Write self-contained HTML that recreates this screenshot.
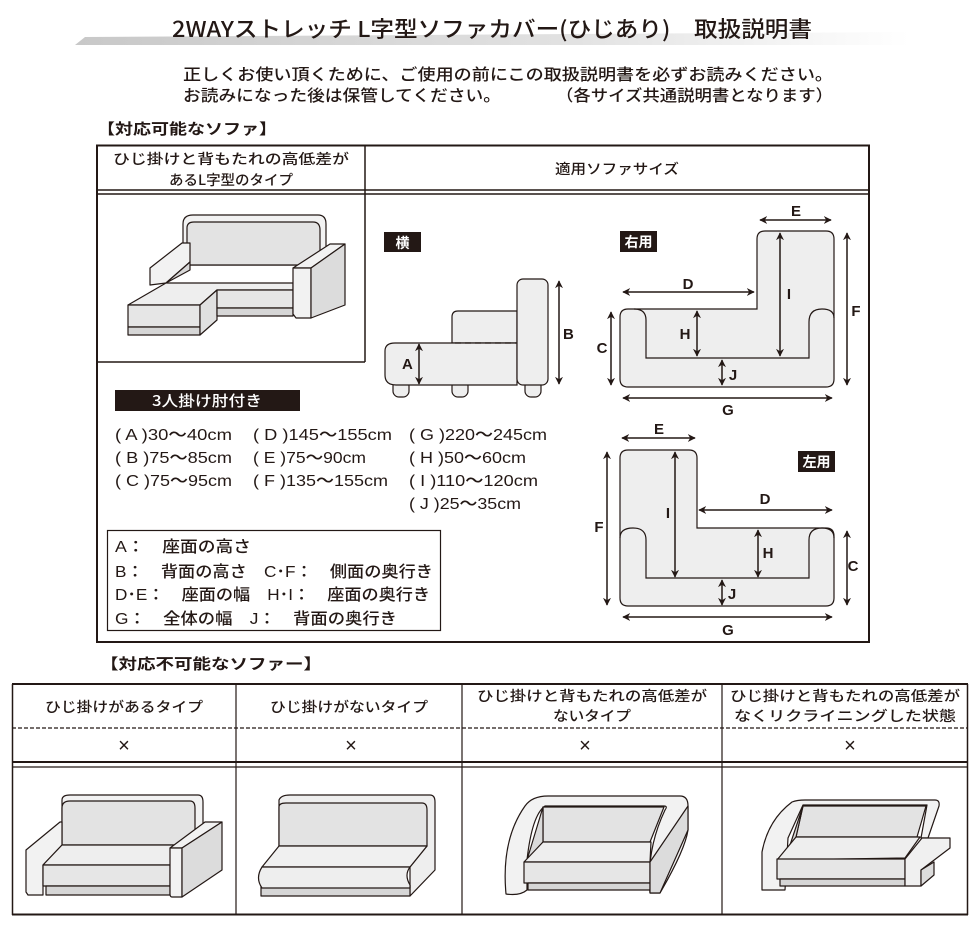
<!DOCTYPE html>
<html><head><meta charset="utf-8"><style>
html,body{margin:0;padding:0;background:#fff}
svg{display:block}
text{font-family:"Liberation Sans","Noto Sans CJK JP",sans-serif;fill:#231815;font-weight:500}
.j{font-family:"Noto Sans CJK JP","Liberation Sans",sans-serif}
</style></head><body>
<svg width="980" height="936" viewBox="0 0 980 936" xmlns="http://www.w3.org/2000/svg">
<defs>
<linearGradient id="bar" x1="0" x2="1" y1="0" y2="0">
<stop offset="0" stop-color="#c8c8c8"/><stop offset="0.6" stop-color="#e2e2e2"/><stop offset="1" stop-color="#ffffff"/>
</linearGradient>
<marker id="ah" viewBox="0 0 10 10" refX="9" refY="5" markerWidth="8" markerHeight="8" orient="auto-start-reverse" markerUnits="userSpaceOnUse">
<path d="M0,0 L10,5 L0,10 L3,5 z" fill="#231815"/></marker>
</defs>

<polygon points="85,37 910,32 910,45 75,45" fill="url(#bar)"/>
<text class="j" x="172" y="37" font-size="22" textLength="640" lengthAdjust="spacingAndGlyphs">2WAYストレッチ L字型ソファカバー(ひじあり)　取扱説明書</text>

<text class="j" x="183" y="80" font-size="16" textLength="650" lengthAdjust="spacingAndGlyphs">正しくお使い頂くために、ご使用の前にこの取扱説明書を必ずお読みください。</text>
<text class="j" x="183" y="101" font-size="16" textLength="318" lengthAdjust="spacingAndGlyphs">お読みになった後は保管してください。</text>
<text class="j" x="556" y="101" font-size="16" textLength="277" lengthAdjust="spacingAndGlyphs">（各サイズ共通説明書となります）</text>

<text class="j" x="97" y="134" font-size="15" font-weight="bold" style="font-weight:bold" textLength="180" lengthAdjust="spacingAndGlyphs">【対応可能なソファ】</text>

<g fill="none" stroke="#231815">
<rect x="97" y="145.5" width="772" height="496.5" stroke-width="2"/>
<line x1="97" y1="190" x2="869" y2="190" stroke-width="1.5"/>
<line x1="97" y1="194" x2="869" y2="194" stroke-width="1.5"/>
<line x1="365" y1="145" x2="365" y2="362" stroke-width="1.5"/>
<line x1="97" y1="362" x2="365" y2="362" stroke-width="1.5"/>
</g>
<text class="j" x="231" y="164" font-size="14" text-anchor="middle" textLength="236" lengthAdjust="spacingAndGlyphs">ひじ掛けと背もたれの高低差が</text>
<text class="j" x="231" y="185" font-size="14" text-anchor="middle" textLength="124" lengthAdjust="spacingAndGlyphs">あるL字型のタイプ</text>
<text class="j" x="617" y="174" font-size="14" text-anchor="middle" textLength="124" lengthAdjust="spacingAndGlyphs">適用ソファサイズ</text>

<g stroke="#231815" stroke-width="1.2" stroke-linejoin="round">
<path d="M183,265 L183,224 Q183,215 193,215 L318,215 Q326,215 326,224 L326,265 Z" fill="#f2f2f2"/>
<path d="M187,265 L187,228 Q187,222 194,222 L313,222 Q320,222 320,230 L320,265 Z" fill="#e3e3e3"/>
<polygon points="150,268 182,243 190,243 190,262 166,283 150,285" fill="#f2f2f2"/>
<polygon points="166,283 190,262 190,270" fill="#d8d8d8"/>
<polygon points="128,305 166,283 293,283 293,290 217,290 200,305" fill="#eeeeee"/>
<polygon points="128,305 200,305 200,327 128,327" fill="#e6e6e6"/>
<polygon points="128,327 200,327 200,335 128,335" fill="#d6d6d6"/>
<polygon points="200,305 217,290 217,320 200,335" fill="#e0e0e0"/>
<polygon points="217,290 293,290 293,308 217,308" fill="#e6e6e6"/>
<polygon points="217,308 293,308 293,316 217,316" fill="#d6d6d6"/>
<polygon points="293,268 330,244 345,244 311,268" fill="#f2f2f2"/>
<polygon points="293,268 311,268 311,318 296,318 293,314" fill="#f2f2f2"/>
<polygon points="311,268 345,244 345,305 311,318" fill="#dcdcdc"/>
</g>

<rect x="384" y="232" width="37" height="20" fill="#231815"/>
<text class="j" x="402.5" y="248" font-size="14" text-anchor="middle" style="fill:#fff;font-weight:bold">横</text>
<g stroke="#231815" stroke-width="1.2" fill="#eeeeee">
<rect x="393" y="380" width="16" height="17" rx="6"/>
<rect x="452" y="380" width="16" height="17" rx="6"/>
<rect x="525" y="380" width="16" height="17" rx="6"/>
<path d="M452,343 L452,317 Q452,311 458,311 L517,311 L517,343 Z"/>
<path d="M517,385 L396,385 Q385,385 385,375 L385,351 Q385,343 395,343 L517,343 Z"/>
<rect x="517" y="279" width="31" height="106" rx="6"/>
</g>
<line x1="455" y1="343" x2="516" y2="343" stroke="#231815" stroke-width="1.2" stroke-dasharray="6,4"/>
<g stroke="#231815" stroke-width="1.5" marker-start="url(#ah)" marker-end="url(#ah)">
<line x1="419" y1="344" x2="419" y2="384"/>
<line x1="559" y1="281" x2="559" y2="384"/>
</g>
<text x="402" y="369" font-size="15" style="font-weight:bold">A</text>
<text x="563" y="339" font-size="15" style="font-weight:bold">B</text>

<rect x="620" y="231" width="37" height="21" fill="#231815"/>
<text class="j" x="638.5" y="247" font-size="14" text-anchor="middle" style="fill:#fff;font-weight:bold">右用</text>
<path d="M628,309 L757,309 L757,239 Q757,231 765,231 L826,231 Q834,231 834,239 L834,379 Q834,387 826,387 L628,387 Q620,387 620,379 L620,317 Q620,309 628,309 Z" fill="#eeeeee" stroke="#231815" stroke-width="1.2"/>
<path d="M634,309 Q646,309 646,320 L646,358 L809,358 L809,322 Q809,309 822,309 Q834,309 834,318" fill="none" stroke="#231815" stroke-width="1.2"/>
<g stroke="#231815" stroke-width="1.5" marker-start="url(#ah)" marker-end="url(#ah)">
<line x1="760" y1="220" x2="831" y2="220"/>
<line x1="780" y1="233" x2="780" y2="356"/>
<line x1="623" y1="292" x2="754" y2="292"/>
<line x1="697" y1="311" x2="697" y2="356"/>
<line x1="611" y1="312" x2="611" y2="385"/>
<line x1="847" y1="233" x2="847" y2="385"/>
<line x1="722" y1="360" x2="722" y2="385"/>
<line x1="623" y1="398" x2="832" y2="398"/>
</g>
<g font-size="15" text-anchor="middle" style="font-weight:bold">
<text x="796" y="216" style="font-weight:bold">E</text><text x="789" y="299" style="font-weight:bold">I</text><text x="688" y="289" style="font-weight:bold">D</text>
<text x="685" y="339" style="font-weight:bold">H</text><text x="602" y="353" style="font-weight:bold">C</text><text x="856" y="316" style="font-weight:bold">F</text>
<text x="733" y="380" style="font-weight:bold">J</text><text x="728" y="415" style="font-weight:bold">G</text>
</g>

<rect x="798" y="451" width="37" height="21" fill="#231815"/>
<text class="j" x="816.5" y="467" font-size="14" text-anchor="middle" style="fill:#fff;font-weight:bold">左用</text>
<path d="M628,450 L689,450 Q697,450 697,458 L697,528 L826,528 Q834,528 834,536 L834,598 Q834,606 826,606 L628,606 Q620,606 620,598 L620,458 Q620,450 628,450 Z" fill="#eeeeee" stroke="#231815" stroke-width="1.2"/>
<path d="M620,538 Q620,528 633,528 Q646,528 646,540 L646,578 L809,578 L809,540 Q809,528 822,528 Q834,528 834,538" fill="none" stroke="#231815" stroke-width="1.2"/>
<g stroke="#231815" stroke-width="1.5" marker-start="url(#ah)" marker-end="url(#ah)">
<line x1="622" y1="438" x2="695" y2="438"/>
<line x1="675" y1="452" x2="675" y2="577"/>
<line x1="699" y1="510" x2="832" y2="510"/>
<line x1="758" y1="530" x2="758" y2="577"/>
<line x1="847" y1="531" x2="847" y2="605"/>
<line x1="607" y1="452" x2="607" y2="605"/>
<line x1="722" y1="580" x2="722" y2="605"/>
<line x1="623" y1="617" x2="832" y2="617"/>
</g>
<g font-size="15" text-anchor="middle">
<text x="659" y="434" style="font-weight:bold">E</text><text x="668" y="518" style="font-weight:bold">I</text><text x="765" y="504" style="font-weight:bold">D</text>
<text x="768" y="558" style="font-weight:bold">H</text><text x="853" y="571" style="font-weight:bold">C</text><text x="599" y="532" style="font-weight:bold">F</text>
<text x="732" y="599" style="font-weight:bold">J</text><text x="728" y="635" style="font-weight:bold">G</text>
</g>

<rect x="115" y="390" width="185" height="21" fill="#231815"/>
<text class="j" x="207" y="406" font-size="15" text-anchor="middle" style="fill:#fff" textLength="110" lengthAdjust="spacingAndGlyphs">3人掛け肘付き</text>
<g font-size="16">
<text x="115" y="440" textLength="117" lengthAdjust="spacingAndGlyphs">( A )30〜40cm</text>
<text x="115" y="463" textLength="117" lengthAdjust="spacingAndGlyphs">( B )75〜85cm</text>
<text x="115" y="486" textLength="117" lengthAdjust="spacingAndGlyphs">( C )75〜95cm</text>
<text x="253" y="440" textLength="139" lengthAdjust="spacingAndGlyphs">( D )145〜155cm</text>
<text x="253" y="463" textLength="113" lengthAdjust="spacingAndGlyphs">( E )75〜90cm</text>
<text x="253" y="486" textLength="135" lengthAdjust="spacingAndGlyphs">( F )135〜155cm</text>
<text x="409" y="440" textLength="138" lengthAdjust="spacingAndGlyphs">( G )220〜245cm</text>
<text x="409" y="463" textLength="117" lengthAdjust="spacingAndGlyphs">( H )50〜60cm</text>
<text x="409" y="486" textLength="129" lengthAdjust="spacingAndGlyphs">( I )110〜120cm</text>
<text x="409" y="509" textLength="112" lengthAdjust="spacingAndGlyphs">( J )25〜35cm</text>
</g>

<rect x="107.5" y="530.5" width="333" height="100" fill="none" stroke="#231815" stroke-width="1.2"/>
<g class="j" font-size="16">
<text x="115" y="552" textLength="136" lengthAdjust="spacingAndGlyphs">A：　座面の高さ</text>
<text x="115" y="577" textLength="318" lengthAdjust="spacingAndGlyphs">B：　背面の高さ　C･F：　側面の奥行き</text>
<text x="115" y="600" textLength="315" lengthAdjust="spacingAndGlyphs">D･E：　座面の幅　H･I：　座面の奥行き</text>
<text x="115" y="624" textLength="282" lengthAdjust="spacingAndGlyphs">G：　全体の幅　J：　背面の奥行き</text>
</g>

<text class="j" x="100" y="669" font-size="15" style="font-weight:bold" textLength="222" lengthAdjust="spacingAndGlyphs">【対応不可能なソファー】</text>
<g fill="none" stroke="#231815">
<line x1="12" y1="684" x2="968" y2="684" stroke-width="2"/>
<line x1="12" y1="914.5" x2="968" y2="914.5" stroke-width="2"/>
<line x1="12.5" y1="684" x2="12.5" y2="915" stroke-width="1.5"/>
<line x1="967.5" y1="684" x2="967.5" y2="915" stroke-width="1.5"/>
<line x1="236" y1="684" x2="236" y2="915" stroke-width="1.2"/>
<line x1="462" y1="684" x2="462" y2="915" stroke-width="1.2"/>
<line x1="722" y1="684" x2="722" y2="915" stroke-width="1.2"/>
<line x1="12" y1="728" x2="968" y2="728" stroke-width="1.2" stroke-dasharray="4,2"/>
<line x1="12" y1="762" x2="968" y2="762" stroke-width="2"/>
<line x1="12" y1="767" x2="968" y2="767" stroke-width="1.2"/>
</g>
<g class="j" font-size="14" text-anchor="middle">
<text x="124" y="712" textLength="158" lengthAdjust="spacingAndGlyphs">ひじ掛けがあるタイプ</text>
<text x="349" y="712" textLength="158" lengthAdjust="spacingAndGlyphs">ひじ掛けがないタイプ</text>
<text x="592" y="701" textLength="230" lengthAdjust="spacingAndGlyphs">ひじ掛けと背もたれの高低差が</text>
<text x="592" y="721" textLength="78" lengthAdjust="spacingAndGlyphs">ないタイプ</text>
<text x="845" y="701" textLength="230" lengthAdjust="spacingAndGlyphs">ひじ掛けと背もたれの高低差が</text>
<text x="845" y="721" textLength="222" lengthAdjust="spacingAndGlyphs">なくリクライニングした状態</text>
</g>
<g font-size="20" text-anchor="middle">
<text x="124" y="752">×</text><text x="351" y="752">×</text><text x="585" y="752">×</text><text x="850" y="752">×</text>
</g>

<g stroke="#231815" stroke-width="1.2" stroke-linejoin="round">
<path d="M62,845 L62,800 Q62,795 70,795 L198,795 Q203,795 203,802 L203,845 Z" fill="#f2f2f2"/>
<path d="M62,845 L62,808 Q62,801 70,801 L190,801 Q195,801 195,808 L195,845 Z" fill="#e3e3e3"/>
<polygon points="26,850 60,822 62,822 62,845 43,865 43,895 28,895 26,892" fill="#f2f2f2"/>
<polygon points="43,865 62,845 180,845 170,865" fill="#eeeeee"/>
<rect x="43" y="865" width="127" height="21" fill="#e6e6e6"/>
<rect x="46" y="886" width="124" height="9" fill="#d6d6d6"/>
<polygon points="170,848 205,822 222,822 182,848" fill="#f2f2f2"/>
<path d="M170,848 L182,848 L182,897 L172,897 Q170,897 170,894 Z" fill="#f2f2f2"/>
<polygon points="182,848 222,822 222,870 182,897" fill="#dcdcdc"/>
<path d="M279,846 L279,800 Q281,795 290,795 L430,795 Q435,795 435,802 L435,870 L410,896 L410,867 L427,846 Z" fill="#eeeeee"/>
<path d="M279,846 L279,807 Q279,803 286,803 L422,803 Q427,803 427,810 L427,846 Z" fill="#e3e3e3"/>
<polygon points="262,867 279,846 427,846 410,867" fill="#f0f0f0"/>
<rect x="261" y="885" width="149" height="11" fill="#d6d6d6"/>
<path d="M262,867 L410,867 Q404,875 410,885 L410,888 L262,888 Q255,878 262,867 Z" fill="#eeeeee"/>
<path d="M506,894 Q501,840 525,806 Q532,796 548,796 L680,796 Q688,796 688,806 L688,830 Q685,850 660,893 L650,893 Q646,850 665,810 Q668,806 664,806 L545,806 Q532,815 527,860 L527,890 Q520,896 506,894 Z" fill="#f2f2f2"/>
<polygon points="543,807 664,807 650,842 543,842" fill="#e3e3e3"/>
<polygon points="527,860 543,807 543,842" fill="#dadada"/>
<polygon points="524,862 543,842 651,842 650,862" fill="#eeeeee"/>
<rect x="524" y="862" width="126" height="21" fill="#e6e6e6"/>
<rect x="528" y="883" width="122" height="7" fill="#d6d6d6"/>
<polygon points="650,862 688,806 688,830 660,893 650,893" fill="#dcdcdc"/>
<path d="M762,890 L762,852 Q768,820 792,802 Q797,800 805,800 L935,800 Q940,800 939,806 L928,838 L921,838 L927,805 L803,805 L788,838 L785,890 Z" fill="#f2f2f2"/>
<polygon points="803,806 926,806 917,837 796,837" fill="#e3e3e3"/>
<polygon points="785,860 803,806 796,837" fill="#dadada"/>
<polygon points="777,860 796,837 920,837 905,858" fill="#eeeeee"/>
<rect x="777" y="859" width="128" height="20" fill="#e6e6e6"/>
<rect x="780" y="879" width="125" height="7" fill="#d6d6d6"/>
<path d="M905,859 L922,838 L950,838 L950,848 L921,870 L921,886 L905,886 Z" fill="#f0f0f0"/>
<polygon points="921,870 934,862 934,875 921,886" fill="#dcdcdc"/>
</g>
</svg>
</body></html>
